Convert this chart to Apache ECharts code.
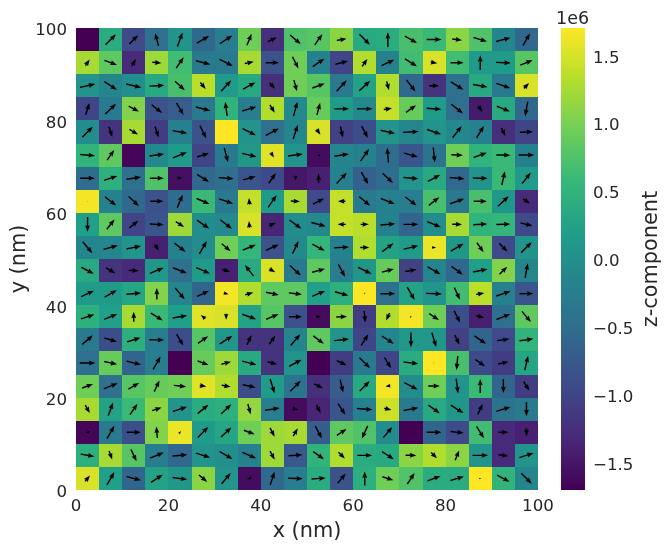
<!DOCTYPE html>
<html><head><meta charset="utf-8">
<style>html,body{margin:0;padding:0;background:#fff}#c{width:670px;height:550px}</style>
<script src="https://cdn.jsdelivr.net/npm/echarts@6/dist/echarts.min.js"></script>
</head><body><div id="c"></div>
<script>
const xTicks = [0,20,40,60,80,100];
const barTicks = [-1.5,-1,-0.5,0,0.5,1,1.5];
const zLimit = 1.7;
const cellSize = 5;
const viridis = ['#440154','#482878','#3e4a89','#31688e','#26828e','#1f9e89','#35b779','#6ece58','#b5de2b','#fde725'];
// z component in units of 1e6, top row (y 95-100) first
const zRows = [
[-1.7,.4,-.95,-.45,.05,-.55,-.25,.95,-1.25,.75,.8,1.1,.35,.4,.7,.6,1.1,.75,-.15,-.55],
[1.25,.85,-1.3,1.2,.65,-.3,-.3,1.25,-.85,.95,-.2,-1,1.3,-.2,.65,1.5,.65,.15,.15,.8],
[.05,-.15,-.02,.35,.7,1.35,.15,.35,-1.25,.95,.8,-.3,.25,1.3,-.55,-1.2,-.45,.35,-.3,1.5],
[-1,-.3,1.05,-.85,-.7,-.3,.5,-.25,1.3,-.1,.9,.15,-.1,1.4,.9,.15,-.45,-1.45,.35,-.55],
[-.05,-1.2,1.25,-1.1,-.2,-.85,1.7,.05,-.45,-.15,1.5,-1.05,-.9,.05,-.15,.05,-.1,-.2,-1.25,-1],
[.5,.85,-1.65,-.1,.15,-1,-.3,.1,1.55,.05,-1.6,-.15,-.2,-.5,-.8,-.4,.95,.5,.6,-.2],
[-.5,.45,-.45,.75,-1.55,-.55,-.45,-.8,-.95,-1.5,-1.4,-.2,-.65,-.5,.05,.35,-.55,.05,.6,.15],
[1.65,-.2,-.55,-.85,-.5,.6,-.3,1.4,.15,1.25,-.95,1.4,-.3,-.2,-.25,.7,-.3,.7,.1,-1.3],
[.2,.85,-1,-.8,1.2,-.05,-.1,1.5,-1.35,-.05,-.1,1.4,1.35,-.2,-.6,-.05,1.25,.5,.55,-.95],
[-.15,-.15,.05,-1.4,-.2,-.05,.95,.55,-.85,-.1,.55,-.2,1.3,.25,.15,1.6,.1,.95,-.95,.05],
[.35,-1.2,-1.3,.1,-.45,.15,-1.4,.35,1.5,-.3,.85,-.25,.1,.9,-1.05,-.15,-.55,.2,1.05,-.15],
[.15,.15,.3,1.05,-.15,-.6,1.65,1.3,.85,.85,.2,.45,1.7,-.45,.25,.05,.65,1.35,-.2,-.8],
[.45,.2,1.25,.6,.2,1.55,1.5,.25,.8,-.85,-1.6,1.1,-1.1,1.3,1.65,.95,-.9,-1.4,-.45,.85],
[-.3,-.9,.45,-.25,-.9,.8,.1,-1.2,-1.2,-.15,.85,.05,-1,-.15,.1,.1,-1.05,-.6,-.95,.5],
[-.45,.9,-.6,-.25,-1.7,.9,1.2,.35,-1.2,.05,-1.7,-1.1,-.3,-1,.4,1.7,.7,-.95,-1.1,.3],
[.95,-.45,.8,.9,.95,1.55,1.3,-.9,.15,-.4,-1.25,-.7,.35,1.65,-.05,.95,.05,.6,-.6,-1.1],
[1.25,.25,.6,1.1,.05,.4,.45,1.15,-.25,-1.6,-1.35,-.8,-.2,1.45,-.3,.35,.1,-1.1,-.4,-.3],
[-1.65,-.3,-.9,1.05,1.6,.15,.3,.95,1.2,1.25,-.7,.85,.75,-.05,-1.7,-.6,-.95,.65,-1.3,-1.4],
[.45,1.25,.8,-.25,-.55,.05,-.02,-.2,1.2,-.75,.5,1.3,.4,.35,1.1,1.3,1.1,.05,-1.3,.05],
[1.5,.2,-.6,.25,.1,1.1,.05,-1.6,-.55,-.25,.4,-.85,.45,.95,.75,.4,.4,1.7,.5,-.15]
];
// in-plane direction of each arrow, degrees counter-clockwise from +x
const angleRows = [
[0,45,45,105,70,30,33,68,25,-40,55,10,-45,90,-30,0,-7,-17,15,60],
[55,-20,60,-5,55,-15,-27,10,0,-63,35,15,55,25,-32,-10,0,90,-2,22],
[12,-33,-13,3,-42,-50,47,28,-48,-75,20,47,43,-75,-52,0,-32,-10,-19,45],
[72,43,-28,-38,-60,-14,98,17,-58,75,75,0,0,10,35,-4,-38,-58,-22,-100],
[45,-72,-30,-72,-10,-63,0,-27,28,72,-55,-78,-62,-13,3,-19,52,58,-63,2],
[-5,55,0,8,22,18,-75,-13,-60,8,150,9,55,95,-16,-84,-2,20,-1,0],
[0,18,8,0,-5,-33,-4,15,55,-90,90,47,-60,-43,-5,28,-4,-1,77,52],
[0,-38,-43,0,67,-23,-19,95,55,-3,27,180,-40,-22,-37,38,20,0,43,-35],
[-90,52,40,-3,-33,-35,-38,95,20,-36,-15,180,0,5,0,-22,-2,3,2,-14],
[-50,15,12,-57,-38,60,-40,22,25,65,-28,3,0,37,13,0,30,-55,-45,44],
[-28,-30,-2,23,-22,-23,-16,128,-30,-43,15,-62,-25,15,10,-30,-37,11,45,80],
[25,30,5,90,-50,25,-15,15,-12,-7,23,-16,-90,0,-60,-2,-65,10,18,1],
[18,22,90,-32,10,140,-90,-20,22,0,-10,3,-85,-115,30,-33,-63,-14,22,-50],
[40,-16,17,-1,-60,35,32,65,55,50,-37,6,57,-33,-90,-73,-63,-35,7,8],
[0,-12,-14,60,0,-20,15,-14,-14,28,0,-25,-45,-58,-7,0,-95,-35,12,77],
[20,22,30,65,-6,-10,-10,-12,-73,45,-25,-77,45,190,-28,0,-83,90,-90,-57],
[-60,70,55,18,18,40,43,-75,8,-10,-62,-57,-5,-15,11,-35,-32,65,17,-90],
[180,60,0,95,55,45,42,-20,-63,60,-62,33,-115,50,90,0,-7,-58,0,-90],
[-10,-70,-65,22,5,-17,-30,-23,-62,4,-35,-45,0,-33,-2,-45,68,0,-8,18],
[50,60,-15,33,-8,-40,50,200,72,-2,4,50,90,-17,57,20,17,0,-28,-45]
];
// in-plane arrow length as a fraction of the longest arrow
const lengthRows = [
[.03,.9,.75,.8,.9,.85,.9,.75,.6,.85,.8,.6,.9,.9,.85,.9,.6,.85,.9,.85],
[.45,.8,.5,.55,.8,.9,.9,.55,.8,.8,.85,.8,.55,.85,.85,.4,.8,.9,.9,.8],
[.95,.9,.95,.9,.8,.5,.9,.85,.5,.7,.8,.9,.9,.55,.9,.6,.9,.9,.9,.45],
[.75,.9,.7,.8,.85,.9,.85,.9,.55,.9,.75,.9,.95,.5,.75,.9,.9,.45,.85,.9],
[.9,.65,.6,.7,.9,.85,.03,.9,.9,.9,.4,.7,.8,.9,.95,.9,.9,.85,.55,.8],
[.9,.75,.06,.9,.9,.75,.9,.9,.35,.9,.2,.9,.9,.9,.85,.9,.7,.85,.85,.95],
[.9,.85,.9,.85,.3,.85,.9,.8,.75,.3,.55,.9,.85,.85,.9,.85,.9,.9,.85,.85],
[.05,.85,.85,.8,.85,.85,.9,.4,.9,.55,.75,.45,.85,.9,.85,.8,.9,.8,.9,.5],
[.9,.75,.7,.85,.6,.9,.9,.4,.45,.9,.9,.5,.5,.9,.9,.9,.6,.85,.85,.75],
[.9,.9,.9,.45,.85,.9,.7,.85,.85,.85,.85,.9,.55,.85,.9,.25,.9,.7,.7,.9],
[.85,.65,.6,.9,.9,.9,.5,.85,.4,.9,.8,.85,.9,.75,.7,.9,.85,.9,.65,.9],
[.85,.85,.9,.7,.9,.8,.3,.5,.8,.8,.85,.85,.1,.9,.9,.95,.8,.5,.9,.85],
[.85,.85,.6,.85,.9,.35,.35,.9,.8,.8,.3,.65,.7,.5,.12,.7,.8,.5,.9,.85],
[.85,.8,.85,.9,.8,.75,.9,.65,.65,.9,.8,.9,.8,.85,.9,.9,.65,.85,.75,.85],
[.95,.8,.9,.9,.03,.7,.6,.9,.6,.85,.05,.65,.9,.75,.9,.06,.85,.7,.65,.9],
[.7,.9,.75,.75,.75,.4,.55,.8,.9,.9,.6,.8,.85,.3,.9,.7,.9,.85,.85,.65],
[.55,.85,.8,.6,.9,.85,.85,.65,.9,.35,.55,.8,.95,.45,.9,.85,.9,.7,.9,.85],
[.25,.9,.85,.7,.2,.9,.85,.7,.6,.55,.85,.7,.85,.85,.08,.9,.8,.85,.6,.5],
[.85,.55,.8,.9,.9,.9,.9,.9,.6,.85,.8,.55,.9,.85,.65,.5,.65,.95,.6,.9],
[.45,.9,.9,.85,.9,.65,.85,.3,.85,.9,.85,.75,.85,.7,.8,.85,.85,.12,.85,.9]
];

const cellData = [], arrowData = [];
zRows.forEach((row, r) => row.forEach((z, c) => {
  const x = cellSize * c + cellSize / 2, y = 100 - cellSize * r - cellSize / 2;
  cellData.push([x, y, z]);
  arrowData.push([x, y, angleRows[r][c], lengthRows[r][c]]);
}));
// colour bar: one thin slice per step of the colour scale
const barSteps = 231, barData = [];
for (let i = 0; i < barSteps; i++) {
  const lo = -zLimit + 2 * zLimit * i / barSteps, hi = -zLimit + 2 * zLimit * (i + 1) / barSteps;
  barData.push([lo, hi, (lo + hi) / 2]);
}

const FONT = '"DejaVu Sans"', INK = '#262626';
const TICK = 16.67, LABEL = 20.83;
const chart = echarts.init(document.getElementById('c'), null, {renderer:'canvas'});

function renderCell(params, api) {
  const x = api.value(0), y = api.value(1), h = cellSize / 2;
  const a = api.coord([x - h, y + h]), b = api.coord([x + h, y - h]);
  const x0 = Math.round(a[0]), y0 = Math.round(a[1]), x1 = Math.round(b[0]), y1 = Math.round(b[1]);
  return {type:'rect', shape:{x:x0, y:y0, width:x1 - x0, height:y1 - y0}, style:{fill:api.visual('color')}};
}
function renderBar(params, api) {
  const a = api.coord([0, api.value(1)]), b = api.coord([1, api.value(0)]);
  const y0 = Math.round(a[1]), y1 = Math.round(b[1]);
  return {type:'rect', shape:{x:a[0], y:y0, width:b[0] - a[0], height:y1 - y0}, style:{fill:api.visual('color')}};
}
function renderArrow(params, api) {
  const c = api.coord([api.value(0), api.value(1)]);
  const theta = api.value(2) * Math.PI / 180;
  const full = 16.5, w0 = 1.45;
  const len = api.value(3) * full;
  // quiver-style: arrows shorter than the head shrink as a whole
  const k = Math.min(1, len / (w0 * 4.5));
  const w = w0 * k, hl = 4.5 * w, ha = 4 * w, hw = 1.7 * w;
  const s = -len / 2, e = len / 2;
  const pts = [[s,-w/2],[e-ha,-w/2],[e-hl,-hw],[e,0],[e-hl,hw],[e-ha,w/2],[s,w/2]];
  const cs = Math.cos(theta), sn = Math.sin(theta);
  return {type:'polygon', shape:{points:pts.map(p => [c[0] + p[0]*cs + p[1]*sn, c[1] - p[0]*sn + p[1]*cs])}, style:{fill:'#000'}};
}
const yRich = {t:{fontFamily:FONT, fontSize:TICK, color:INK, padding:[6,0,0,0]}};

chart.setOption({
  animation:false,
  backgroundColor:'#fff',
  title:{text:'1e6', left:551, top:5, textStyle:{fontFamily:FONT, fontSize:17.5, fontWeight:'normal', color:INK}},
  grid:[
    {left:76, top:28, width:462, height:462, outerBoundsMode:'none'},
    {left:561, top:28, width:24, height:462, outerBoundsMode:'none'}
  ],
  xAxis:[
    {type:'value', gridIndex:0, min:0, max:100, interval:20, name:'x (nm)', nameLocation:'middle', nameGap:31,
     nameTextStyle:{fontFamily:FONT, fontSize:LABEL, color:INK},
     axisLine:{show:false}, axisTick:{show:false}, splitLine:{show:false},
     axisLabel:{fontFamily:FONT, fontSize:TICK, color:INK, margin:8, customValues:xTicks}},
    {type:'value', gridIndex:1, min:0, max:1, show:false}
  ],
  yAxis:[
    {type:'value', gridIndex:0, min:0, max:100, interval:20, name:'y (nm)', nameLocation:'middle', nameGap:46, nameMoveOverlap:false,
     nameTextStyle:{fontFamily:FONT, fontSize:LABEL, color:INK},
     axisLine:{show:false}, axisTick:{show:false}, splitLine:{show:false},
     axisLabel:{margin:9, customValues:xTicks, rich:yRich, formatter:v => '{t|' + v + '}'}},
    {type:'value', gridIndex:1, position:'right', min:-zLimit, max:zLimit, name:'z-component', nameLocation:'middle',
     nameGap:56, nameRotate:90, nameTextStyle:{fontFamily:FONT, fontSize:LABEL, color:INK},
     axisLine:{show:false}, axisTick:{show:false}, splitLine:{show:false},
     axisLabel:{margin:8, customValues:barTicks, rich:yRich,
                formatter:v => '{t|' + (v < 0 ? '\u2212' : '') + Math.abs(v).toFixed(1) + '}'}}
  ],
  visualMap:{type:'continuous', show:false, seriesIndex:[0,2], dimension:2, min:-zLimit, max:zLimit,
    inRange:{color:viridis}},
  series:[
    {type:'custom', xAxisIndex:0, yAxisIndex:0, data:cellData, renderItem:renderCell, encode:{x:0,y:1}, silent:true},
    {type:'custom', xAxisIndex:0, yAxisIndex:0, data:arrowData, renderItem:renderArrow, encode:{x:0,y:1}, silent:true, z:3},
    {type:'custom', xAxisIndex:1, yAxisIndex:1, data:barData, renderItem:renderBar, encode:{y:[0,1]}, silent:true}
  ]
});
</script></body></html>
